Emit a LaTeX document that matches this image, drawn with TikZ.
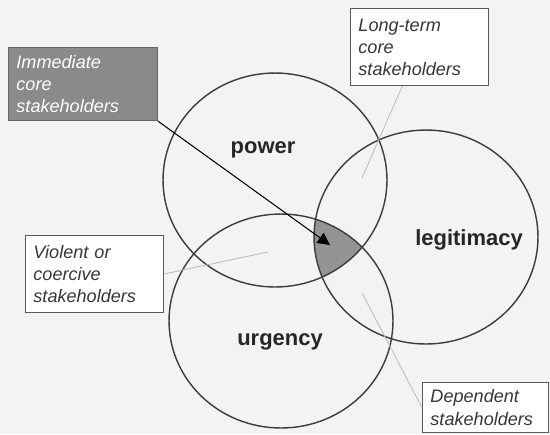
\documentclass[tikz,border=0pt]{standalone}
\usepackage{fontspec}
\setmainfont{Liberation Sans}
\usetikzlibrary{arrows.meta}
\definecolor{bg}{RGB}{243, 243, 243}
\definecolor{ring-line}{RGB}{60, 60, 60}
\definecolor{core-box}{RGB}{138, 138, 138}
\definecolor{core-area}{RGB}{148, 148, 148}
\definecolor{note-text}{RGB}{55, 55, 55}
\definecolor{leader-line}{RGB}{190, 190, 190}
\tikzstyle{arrow} = [black, -{Triangle[length=7pt, width=7pt]}, line width=0.6pt]
\tikzstyle{leader} = [leader-line, -, line width=0.5pt]
\tikzstyle{ring} = [ring-line, line width=0.8pt]
\newcommand{\tikzsetlabel}{\node[
  font=\fontsize{12.5pt}{12.5pt}\selectfont\bfseries, text=black!85, inner sep=0
]}
\newcommand{\tikznotenode}[2]{\node[
  draw=#1, rectangle, fill=#2, anchor=north west, line width=0.6pt, inner xsep=4.5pt, inner ysep=0,
  align=left, font=\fontsize{10.3pt}{12.6pt}\selectfont\itshape
]}

\begin{document}
\begin{tikzpicture}[x=0.02cm, y=-0.02cm]
    \fill[bg] (0, 0) rectangle (550, 434);
    \useasboundingbox (0, 0) rectangle (550, 434);

    % set centres
    \coordinate (power-c)   at (275, 180);
    \coordinate (legit-c)   at (426, 237);
    \coordinate (urgency-c) at (281, 321);

    % core area
    \begin{scope}
      \clip (power-c) ellipse [x radius=2.24cm, y radius=2.14cm];
      \clip (legit-c) ellipse [x radius=2.24cm, y radius=2.14cm];
      \fill[core-area] (urgency-c) ellipse [x radius=2.24cm, y radius=2.14cm];
    \end{scope}

    % sets
    \draw[ring] (power-c)   ellipse [x radius=2.24cm, y radius=2.14cm];
    \draw[ring] (legit-c)   ellipse [x radius=2.24cm, y radius=2.14cm];
    \draw[ring] (urgency-c) ellipse [x radius=2.24cm, y radius=2.14cm];

    \tikzsetlabel at (263, 150) (power)      {power};
    \tikzsetlabel at (469, 240) (legitimacy) {legitimacy};
    \tikzsetlabel at (280, 342) (urgency)    {urgency};

    % notes
    \tikznotenode{black!60}{core-box} [text=white, text width=2.66cm, minimum height=1.46cm]
      (immediate) at (8, 47) {Immediate\\core\\stakeholders};
    \tikznotenode{black!65}{white} [text=note-text, text width=2.44cm, minimum height=1.54cm]
      (longterm) at (350, 8) {Long-term\\core\\stakeholders};
    \tikznotenode{black!65}{white} [text=note-text, text width=2.44cm, minimum height=1.54cm]
      (violent) at (25, 235) {Violent or\\coercive\\stakeholders};
    \tikznotenode{black!65}{white} [text=note-text, text width=2.2cm, minimum height=1.0cm]
      (dependent) at (422, 382) {Dependent\\stakeholders};

    % pointers
    \coordinate (core-pt)      at (330, 245);
    \coordinate (longterm-pt)  at (362, 178);
    \coordinate (violent-pt)   at (268, 252);
    \coordinate (dependent-pt) at (362, 293);

    \draw[arrow]  (immediate.south east) -- (core-pt);
    \draw[leader] (longterm-pt)  -- (longterm);
    \draw[leader] (violent.east) -- (violent-pt);
    \draw[leader] (dependent-pt) -- (dependent.west);
  \end{tikzpicture}
\end{document}
